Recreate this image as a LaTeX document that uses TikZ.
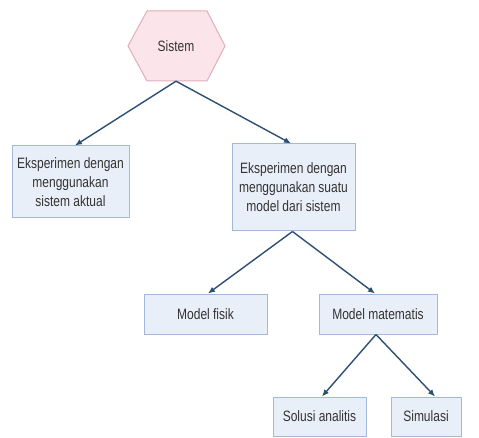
\documentclass[tikz,border=0pt]{standalone}
\usepackage{fontspec}
\setmainfont{Liberation Sans}[FakeStretch=0.8]
\usetikzlibrary{calc,arrows.meta}
\definecolor{boxfill}{HTML}{E9EFF9}
\definecolor{boxline}{HTML}{A3B9D8}
\definecolor{hexfill}{HTML}{FBE5EA}
\definecolor{hexline}{HTML}{E2AEBB}
\definecolor{arr}{HTML}{2F4E74}
\definecolor{txt}{HTML}{333333}
\tikzset{
  box/.style={draw=boxline, fill=boxfill, line width=1pt, inner sep=0pt, align=center,
    text=txt, font=\fontsize{15}{19}\selectfont},
  conn/.style={draw=arr, line width=1.4pt, -{Latex[length=7pt,width=6pt]}}
}
\begin{document}
\begin{tikzpicture}[x=1pt,y=-1pt]
\useasboundingbox (0,0) rectangle (479,438);
\fill[white] (0,0) rectangle (479,438);
\filldraw[fill=hexfill, draw=hexline, line width=1pt]
  (128,46) -- (147,11) -- (207,11) -- (225,46) -- (207,81) -- (147,81) -- cycle;
\node[text=txt, font=\fontsize{15}{19}\selectfont, minimum height=70pt, inner sep=0pt] (sistem) at (176,46) {Sistem};

\node[box, minimum width=117pt, minimum height=72pt] (aktual) at (70.5,182) {Eksperimen dengan\\menggunakan\\sistem aktual};
\node[box, minimum width=123pt, minimum height=87pt] (model) at (293.5,187.5) {Eksperimen dengan\\menggunakan suatu\\model dari sistem};
\node[box, minimum width=123pt, minimum height=40pt] (fisik) at (205.5,314) {Model fisik};
\node[box, minimum width=118pt, minimum height=40pt] (mat) at (378,314) {Model matematis};
\node[box, minimum width=93pt, minimum height=39pt] (solusi) at (319.5,416.5) {Solusi analitis};
\node[box, minimum width=70pt, minimum height=39pt] (sim) at (426,416.5) {Simulasi};

\draw[conn] (sistem.south) -- ($(aktual.north)+(4.5,0)$);
\draw[conn] (sistem.south) -- ($(model.north)+(-2.5,0)$);
\draw[conn] ($(model.south)+(-1,0)$) -- ($(fisik.north)+(2.5,0)$);
\draw[conn] ($(model.south)+(-1,0)$) -- ($(mat.north)+(-3,0)$);
\draw[conn] ($(mat.south)+(-2,0)$) -- ($(solusi.north)+(2.5,0)$);
\draw[conn] ($(mat.south)+(-2,0)$) -- ($(sim.north)+(9,0)$);
\end{tikzpicture}
\end{document}
